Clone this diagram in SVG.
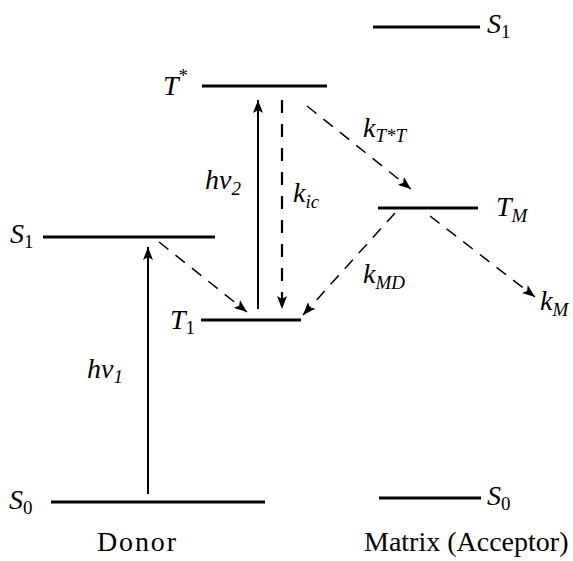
<svg xmlns="http://www.w3.org/2000/svg" width="573" height="561" viewBox="0 0 573 561" font-family="'Liberation Serif', 'Times New Roman', serif">
<style>
.lvl{stroke:#000;stroke-width:3;fill:none}
.sol{stroke:#000;stroke-width:2;fill:none}
.dsh{stroke:#000;stroke-width:1.5;fill:none;stroke-dasharray:12 9}
.vdsh{stroke:#000;stroke-width:2.2;fill:none;stroke-dasharray:13 11}
text{font-family:'Liberation Serif','Times New Roman',serif;font-size:28px;fill:#000}
.it{font-style:italic}
.sub{font-size:19px}
</style>
<defs>
<marker id="ah" markerUnits="userSpaceOnUse" markerWidth="14" markerHeight="10" refX="13" refY="5" orient="auto">
<path d="M0,0 L13,5 L0,10 L3,5 z" fill="#000"/>
</marker>
</defs>
<rect width="573" height="561" fill="#fff"/>
<g id="donor-S0"><line class="lvl" x1="51" y1="502" x2="265" y2="502"/><text x="9" y="509" class="it">S<tspan class="sub" font-style="normal" dy="5">0</tspan></text></g>
<g id="donor-S1"><line class="lvl" x1="43" y1="237" x2="215" y2="237"/><text x="10" y="243" class="it">S<tspan class="sub" font-style="normal" dy="5">1</tspan></text></g>
<g id="T1"><line class="lvl" x1="201" y1="320" x2="301" y2="320"/><text x="170" y="329" class="it">T<tspan class="sub" font-style="normal" dy="5">1</tspan></text></g>
<g id="Tstar"><line class="lvl" x1="202" y1="86" x2="327" y2="86"/><text x="163" y="95" class="it">T<tspan class="sub" font-style="normal" dy="-13">*</tspan></text></g>
<g id="matrix-S1"><line class="lvl" x1="373" y1="27" x2="480" y2="27"/><text x="487" y="33" class="it">S<tspan class="sub" font-style="normal" dy="5">1</tspan></text></g>
<g id="TM"><line class="lvl" x1="378" y1="208" x2="478" y2="208"/><text x="496" y="216" class="it">T<tspan class="sub" dy="6">M</tspan></text></g>
<g id="matrix-S0"><line class="lvl" x1="379" y1="498" x2="481" y2="498"/><text x="487" y="505" class="it">S<tspan class="sub" font-style="normal" dy="5">0</tspan></text></g>
<g id="kM"><text x="540" y="310" class="it">k<tspan class="sub" dy="6">M</tspan></text></g>
<g id="connectors">
<line class="sol" x1="148" y1="494" x2="148" y2="247" marker-end="url(#ah)"/>
<line class="sol" x1="258" y1="309" x2="258" y2="100" marker-end="url(#ah)"/>
<line class="vdsh" x1="282" y1="100" x2="282" y2="309" marker-end="url(#ah)"/>
<line class="dsh" x1="159" y1="242" x2="247" y2="312" marker-end="url(#ah)"/>
<line class="dsh" x1="307" y1="106" x2="411" y2="189" marker-end="url(#ah)"/>
<line class="dsh" x1="395" y1="213" x2="303" y2="315" marker-end="url(#ah)"/>
<line class="dsh" x1="430" y1="216" x2="535" y2="297" marker-end="url(#ah)"/>
</g>
<g id="labels">
<text x="87" y="378" class="it">hv<tspan class="sub" dy="5">1</tspan></text>
<text x="205" y="189" class="it">hv<tspan class="sub" dy="6">2</tspan></text>
<text x="293" y="202" class="it">k<tspan class="sub" dy="6">ic</tspan></text>
<text x="363" y="137" class="it">k<tspan class="sub" dy="5">T*T</tspan></text>
<text x="363" y="283" class="it">k<tspan class="sub" dy="6">MD</tspan></text>
<text x="97" y="551" textLength="79">Donor</text>
<text x="364" y="551">Matrix (Acceptor)</text>
</g>
</svg>
